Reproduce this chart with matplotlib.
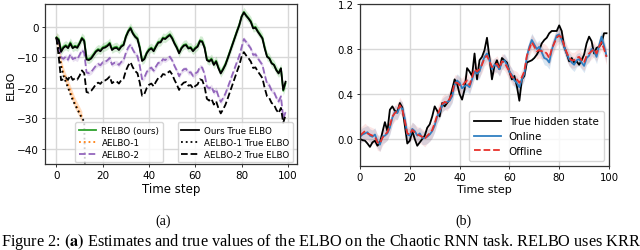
import numpy as np
import matplotlib.pyplot as plt
from matplotlib import rcParams

rcParams['font.family'] = ['DejaVu Sans']
rcParams['mathtext.fontset'] = 'stix'

# ---- panel (a): ELBO estimates ----
steps = np.arange(100)
true_elbo = [-3.6, -4.4, -8.2, -6.9, -6.3, -7.0, -5.5, -7.0, -6.5, -6.9, -5.5, -3.8, -4.7, -10.7, -10.9, -10.4, -9.3, -8.2, -7.6, -8.0,
             -7.0, -6.8, -6.3, -5.5, -7.6, -7.0, -6.9, -7.6, -6.5, -6.0, -3.3, -1.6, -0.5, -2.2, -3.3, -4.0, -7.0, -11.2, -10.6, -8.7,
             -7.6, -7.1, -8.0, -6.5, -5.2, -5.1, -3.8, -4.0, -3.3, -2.7, -3.8, -5.5, -6.9, -8.7, -7.1, -6.2, -6.0, -7.1, -6.9, -8.0,
             -7.1, -6.5, -4.7, -4.9, -6.9, -10.9, -11.4, -10.7, -12.5, -11.4, -13.6, -15.3, -14.0, -12.5, -10.4, -8.2, -6.0, -3.8, -1.6, 0.5,
             3.3, 4.7, 3.6, 2.7, 1.6, -0.5, -0.3, -1.6, -2.7, -3.8, -7.1, -9.8, -10.4, -12.0, -12.5, -14.2, -15.3, -13.6, -20.7, -18.0]
relbo = [-3.4, -4.0, -7.8, -6.5, -6.0, -6.6, -5.1, -6.7, -6.2, -6.5, -5.2, -3.5, -4.3, -10.3, -10.6, -10.0, -9.0, -7.9, -7.3, -7.6,
         -6.7, -6.4, -6.0, -5.2, -7.2, -6.7, -6.5, -7.3, -6.2, -5.7, -3.0, -1.3, -0.2, -1.9, -3.0, -3.7, -6.6, -10.9, -10.3, -8.4,
         -7.3, -6.8, -7.6, -6.2, -4.9, -4.8, -3.5, -3.7, -3.0, -2.4, -3.5, -5.2, -6.6, -8.4, -6.8, -5.9, -5.7, -6.8, -6.6, -7.7,
         -6.8, -6.2, -4.4, -4.6, -6.6, -10.6, -11.1, -10.4, -12.2, -11.1, -13.3, -15.0, -13.7, -12.2, -10.1, -7.9, -5.7, -3.5, -1.3, 0.8,
         3.5, 4.9, 3.8, 2.9, 1.9, -0.2, 0.0, -1.3, -2.4, -3.6, -6.8, -9.6, -10.2, -11.8, -12.4, -14.0, -15.1, -13.6, -21.0, -18.5]
aelbo2 = [-3.6, -6.0, -10.0, -10.5, -9.8, -10.8, -9.0, -10.6, -10.2, -10.6, -9.2, -7.6, -8.5, -15.0, -15.2, -14.8, -13.8, -12.8, -12.2, -12.6,
          -11.6, -11.5, -11.0, -10.2, -12.4, -11.8, -11.8, -12.5, -11.5, -11.0, -8.5, -6.8, -5.8, -7.5, -8.8, -9.6, -12.8, -17.2, -16.6, -14.8,
          -13.8, -13.4, -14.4, -13.0, -11.8, -11.8, -10.6, -10.9, -10.3, -9.8, -11.0, -12.8, -14.3, -16.2, -14.7, -13.9, -13.8, -15.0, -14.9, -16.1,
          -15.3, -14.8, -13.1, -13.4, -15.5, -19.6, -20.2, -19.6, -21.5, -20.5, -22.8, -24.6, -23.4, -21.9, -19.9, -17.8, -15.7, -13.6, -11.5, -9.5,
          -6.7, -4.0, -5.0, -6.0, -7.1, -9.2, -9.0, -10.3, -11.4, -12.5, -15.8, -18.6, -19.2, -20.9, -21.4, -23.2, -24.5, -22.8, -30.0, -28.0]
aelbo2_true = [-3.6, -10.0, -17.5, -17.2, -16.6, -17.4, -15.9, -17.4, -16.9, -17.3, -16.0, -14.3, -15.2, -21.4, -21.6, -21.0, -20.0, -18.9, -18.3, -18.7,
               -17.7, -17.6, -17.1, -16.3, -18.5, -17.9, -17.9, -18.6, -17.5, -17.0, -14.4, -12.7, -11.6, -13.3, -14.5, -15.2, -18.3, -22.6, -22.0, -20.1,
               -19.0, -18.6, -19.5, -18.0, -16.8, -16.7, -15.5, -15.7, -15.1, -14.5, -15.6, -17.4, -18.9, -20.7, -19.1, -18.3, -18.1, -19.3, -19.1, -20.2,
               -19.4, -18.9, -17.2, -17.5, -19.6, -23.6, -24.2, -23.6, -25.5, -24.4, -26.7, -28.4, -27.1, -25.6, -23.5, -21.3, -19.1, -16.9, -14.7, -12.6,
               -9.8, -8.3, -9.4, -10.3, -11.4, -13.5, -13.3, -14.6, -15.7, -16.8, -20.1, -22.8, -23.4, -25.0, -25.5, -27.2, -28.3, -26.6, -31.5, -29.0]
aelbo1 = [-3.6, -7.0, -12.0, -15.0, -17.0, -19.0, -21.0, -23.0, -25.0, -26.5, -28.0, -29.5]
aelbo1_true = [-3.6, -8.0, -13.0, -16.0, -18.0, -20.0, -22.0, -24.0, -25.5, -27.0, -28.5, -30.0, -31.0, -80.0]
relbo_band = 1.5
aelbo2_band = 0.8
aelbo1_band = 1.8

# ---- panel (b): hidden state ----
true_state = [0.0, -0.01, -0.015, -0.04, -0.07, -0.03, -0.015, -0.06, -0.035, 0.06, 0.15, 0.07, 0.26, 0.29, 0.25, 0.24, 0.32, 0.28, 0.12, -0.04,
              -0.015, 0.07, 0.0, -0.06, -0.03, 0.0, 0.03, 0.1, 0.13, 0.2, 0.29, 0.25, 0.2, 0.32, 0.29, 0.32, 0.35, 0.44, 0.53, 0.49,
              0.4, 0.35, 0.44, 0.63, 0.6, 0.56, 0.76, 0.53, 0.7, 0.73, 0.79, 0.9, 0.72, 0.53, 0.65, 0.7, 0.62, 0.72, 0.7, 0.68,
              0.6, 0.53, 0.56, 0.47, 0.34, 0.53, 0.56, 0.68, 0.69, 0.7, 0.72, 0.75, 0.79, 0.85, 0.88, 0.9, 0.94, 0.96, 0.96, 0.96,
              1.01, 0.96, 0.82, 0.76, 0.69, 0.72, 0.68, 0.69, 0.66, 0.7, 0.75, 0.85, 0.91, 0.87, 0.76, 0.81, 0.82, 0.85, 0.94, 0.94]
online = [0.02, 0.04, 0.05, 0.06, 0.03, 0.02, 0.04, -0.02, -0.05, 0.02, 0.03, 0.05, 0.1, 0.19, 0.24, 0.23, 0.29, 0.27, 0.18, 0.04,
          0.03, 0.09, 0.07, 0.03, 0.05, 0.01, 0.01, 0.02, 0.04, 0.07, 0.12, 0.2, 0.24, 0.3, 0.32, 0.33, 0.34, 0.38, 0.48, 0.52,
          0.5, 0.45, 0.47, 0.48, 0.46, 0.53, 0.6, 0.58, 0.6, 0.67, 0.73, 0.76, 0.7, 0.62, 0.66, 0.65, 0.62, 0.68, 0.7, 0.66,
          0.6, 0.57, 0.52, 0.5, 0.46, 0.53, 0.58, 0.73, 0.82, 0.88, 0.84, 0.8, 0.82, 0.77, 0.72, 0.71, 0.68, 0.79, 0.86, 0.92,
          0.93, 0.88, 0.82, 0.76, 0.71, 0.68, 0.66, 0.7, 0.71, 0.68, 0.65, 0.72, 0.74, 0.8, 0.78, 0.73, 0.83, 0.91, 0.83, 0.74]
offline = [0.03, 0.05, 0.07, 0.05, 0.04, 0.03, 0.02, -0.03, -0.04, 0.01, 0.04, 0.06, 0.12, 0.2, 0.23, 0.25, 0.3, 0.26, 0.16, 0.05,
           0.04, 0.08, 0.06, 0.04, 0.03, 0.02, 0.0, 0.03, 0.05, 0.08, 0.14, 0.21, 0.26, 0.31, 0.33, 0.32, 0.36, 0.4, 0.5, 0.5,
           0.48, 0.47, 0.5, 0.52, 0.48, 0.55, 0.62, 0.6, 0.62, 0.66, 0.72, 0.74, 0.69, 0.64, 0.65, 0.67, 0.63, 0.69, 0.68, 0.64,
           0.6, 0.55, 0.54, 0.53, 0.5, 0.55, 0.6, 0.74, 0.8, 0.86, 0.82, 0.78, 0.79, 0.78, 0.78, 0.76, 0.72, 0.8, 0.85, 0.9,
           0.92, 0.9, 0.83, 0.77, 0.72, 0.7, 0.7, 0.72, 0.73, 0.7, 0.68, 0.74, 0.76, 0.78, 0.8, 0.76, 0.82, 0.86, 0.8, 0.73]
online_band = 0.06
offline_band = 0.07

fig = plt.figure(figsize=(6.4, 2.51), dpi=100)
ax1 = fig.add_axes([45 / 640, 1 - 165 / 251, 252 / 640, 160 / 251])
ax2 = fig.add_axes([360 / 640, 1 - 167 / 251, 249 / 640, 162 / 251])

for ax in (ax1, ax2):
    ax.grid(True, color='#d8d8d8', linewidth=1.0)
    ax.set_axisbelow(True)
    for s in ax.spines.values():
        s.set_color('#333333')
        s.set_linewidth(0.9)
    ax.tick_params(length=2.5, width=0.7, color='#333333', pad=2)

green, orange, purple = '#2ca02c', '#ff7f0e', '#9467bd'

te = np.array(true_elbo)
r = np.array(relbo)
a2 = np.array(aelbo2)
a1 = np.array(aelbo1)
t1 = np.arange(len(aelbo1))
t1t = np.arange(len(aelbo1_true))

ax1.fill_between(steps, r - relbo_band, r + relbo_band, color=green, alpha=0.2, lw=0)
ax1.fill_between(steps, a2 - aelbo2_band, a2 + aelbo2_band, color=purple, alpha=0.2, lw=0)
ax1.fill_between(t1, a1 - aelbo1_band, a1 + aelbo1_band, color=orange, alpha=0.25, lw=0)
l_relbo, = ax1.plot(steps, r, color=green, lw=1.3, label='RELBO (ours)')
l_a1, = ax1.plot(t1, a1, color=orange, lw=1.3, ls=':', label='AELBO-1')
l_a2, = ax1.plot(steps, a2, color=purple, lw=1.3, ls='--', label='AELBO-2')
l_true, = ax1.plot(steps, te, color='black', lw=1.3, label='Ours True ELBO')
l_a1t, = ax1.plot(t1t, aelbo1_true, color='black', lw=1.3, ls=':', label='AELBO-1 True ELBO')
l_a2t, = ax1.plot(steps, aelbo2_true, color='black', lw=1.3, ls='--', label='AELBO-2 True ELBO')

ax1.set_xlim(-4.95, 103.95)
ax1.set_ylim(-45, 7.5)
ax1.set_xticks([0, 20, 40, 60, 80, 100])
ax1.set_yticks([0, -10, -20, -30, -40])
ax1.tick_params(labelsize=7.5)
ax1.set_xlabel('Time step', fontsize=8.5, labelpad=1)
ax1.set_ylabel('ELBO', fontsize=8, labelpad=1)

leg_kw = dict(fontsize=6.3, handlelength=2.0, handletextpad=0.6, borderpad=0.4,
              labelspacing=0.35, borderaxespad=0.2, framealpha=0.8)
leg_a = ax1.legend(handles=[l_relbo, l_a1, l_a2], loc='lower left', bbox_to_anchor=(0.113, 0.0), **leg_kw)
ax1.add_artist(leg_a)
ax1.legend(handles=[l_true, l_a1t, l_a2t], loc='lower right', bbox_to_anchor=(0.99, 0.0), **leg_kw)

blue, red = '#2f7fc1', '#e8302a'
on = np.array(online)
off = np.array(offline)
ax2.fill_between(steps, on - online_band, on + online_band, color=blue, alpha=0.18, lw=0)
ax2.fill_between(steps, off - offline_band, off + offline_band, color=red, alpha=0.12, lw=0)
ax2.plot(steps, true_state, color='black', lw=1.3, label='True hidden state')
ax2.plot(steps, on, color=blue, lw=1.3, label='Online')
ax2.plot(steps, off, color=red, lw=1.3, ls='--', label='Offline')
ax2.set_xlim(0, 100)
ax2.set_ylim(-0.24, 1.2)
ax2.set_xticks([0, 20, 40, 60, 80, 100])
ax2.set_yticks([0.0, 0.4, 0.8, 1.2])
ax2.tick_params(labelsize=7.3)
ax2.set_xlabel('Time step', fontsize=8, labelpad=1)
ax2.legend(loc='lower right', fontsize=7.4, handlelength=2.6, borderpad=0.5, labelspacing=0.45, framealpha=0.8)

fig.text(163 / 640, 1 - 221 / 251, '(a)', family='Liberation Serif', fontsize=10, ha='center', va='center')
fig.text(463 / 640, 1 - 221 / 251, '(b)', family='Liberation Serif', fontsize=10, ha='center', va='center')
fig.text(1 / 640, 1 - 242 / 251,
         r'Figure 2: $\mathbf{(a)}$ Estimates and true values of the ELBO on the Chaotic RNN task. RELBO uses KRR',
         family='Liberation Serif', fontsize=11.7, ha='left', va='center')

fig.savefig('out.png', dpi=100)
